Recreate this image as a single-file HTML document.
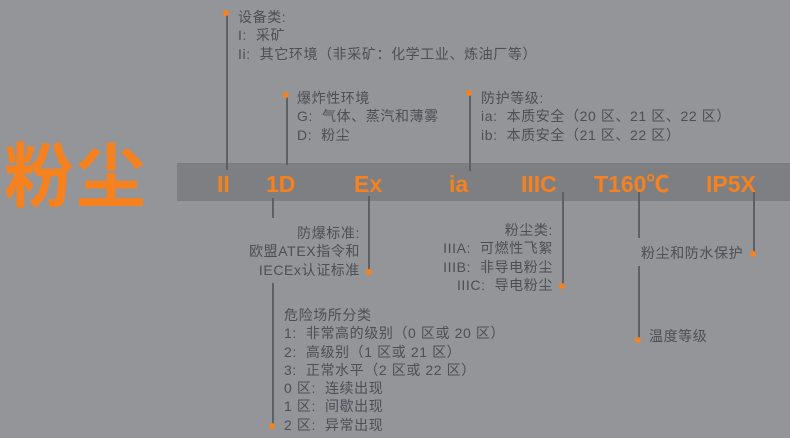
<!DOCTYPE html>
<html><head><meta charset="utf-8"><style>
body{margin:0;width:790px;height:438px;background:#949598;position:relative;overflow:hidden;font-family:"Liberation Sans","Noto Sans CJK SC",sans-serif;}
.t{position:absolute;color:#4b4f56;font-size:14px;letter-spacing:0.6px;line-height:18.3px;white-space:nowrap;}
.r{text-align:right;}
.band{position:absolute;left:177px;top:163px;width:613px;height:38px;background:#7e7f82;}
.o{position:absolute;color:#f5821f;font-weight:bold;font-size:23px;top:173px;line-height:22px;white-space:nowrap;z-index:2;}
.l{position:absolute;width:1.5px;background:#5d6065;}
.d{position:absolute;width:6px;height:6px;border-radius:50%;background:#f5821f;}
.big{position:absolute;left:4px;top:132px;color:#f5821f;font-size:70px;font-weight:bold;line-height:80px;letter-spacing:2px;font-family:"Noto Sans CJK SC",sans-serif;}
</style></head><body>
<div class="band"></div>
<div class="big">粉尘</div>

<div class="o" style="left:217px">II</div>
<div class="o" style="left:266px">1D</div>
<div class="o" style="left:354px">Ex</div>
<div class="o" style="left:449px">ia</div>
<div class="o" style="left:521px">IIIC</div>
<div class="o" style="left:594px">T160℃</div>
<div class="o" style="left:706px">IP5X</div>

<div class="l" style="left:226px;top:13px;height:157px"></div><div class="d" style="left:223px;top:10px"></div>
<div class="l" style="left:286px;top:95px;height:70px"></div><div class="d" style="left:283px;top:92px"></div>
<div class="l" style="left:469px;top:93px;height:78px"></div><div class="d" style="left:466px;top:90px"></div>
<div class="l" style="left:272px;top:198px;height:20px"></div>
<div class="l" style="left:272px;top:283px;height:143px"></div><div class="d" style="left:269px;top:423px"></div>
<div class="l" style="left:368px;top:196px;height:76px"></div><div class="d" style="left:366px;top:269px"></div>
<div class="l" style="left:562px;top:192px;height:94px"></div><div class="d" style="left:559px;top:283px"></div>
<div class="l" style="left:638px;top:192px;height:46px"></div>
<div class="l" style="left:638px;top:266px;height:74px"></div><div class="d" style="left:635px;top:337px"></div>
<div class="l" style="left:753px;top:192px;height:62px"></div><div class="d" style="left:750px;top:251px"></div>

<div class="t" style="left:238px;top:8px">设备类:<br>I:&nbsp; 采矿<br>Ii:&nbsp; 其它环境（非采矿：化学工业、炼油厂等）</div>
<div class="t" style="left:297px;top:89px">爆炸性环境<br>G:&nbsp; 气体、蒸汽和薄雾<br>D:&nbsp; 粉尘</div>
<div class="t" style="left:481px;top:89px">防护等级:<br>ia:&nbsp; 本质安全（20 区、21 区、22 区）<br>ib:&nbsp; 本质安全（21 区、22 区）</div>
<div class="t r" style="right:430px;top:224px">防爆标准:<br>欧盟ATEX指令和<br>IECEx认证标准</div>
<div class="t" style="left:284px;top:306px">危险场所分类<br>1:&nbsp; 非常高的级别（0 区或 20 区）<br>2:&nbsp; 高级别（1 区或 21 区）<br>3:&nbsp; 正常水平（2 区或 22 区）<br>0 区:&nbsp; 连续出现<br>1 区:&nbsp; 间歇出现<br>2 区:&nbsp; 异常出现</div>
<div class="t r" style="right:237px;top:221px">粉尘类:<br>IIIA:&nbsp; 可燃性飞絮<br>IIIB:&nbsp; 非导电粉尘<br>IIIC:&nbsp; 导电粉尘</div>
<div class="t" style="left:641px;top:244px">粉尘和防水保护</div>
<div class="t" style="left:649px;top:327px">温度等级</div>
</body></html>
